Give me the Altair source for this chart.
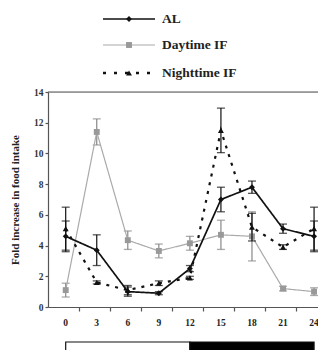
import altair as alt
import pandas as pd

hours = [0, 3, 6, 9, 12, 15, 18, 21, 24]
series_names = ["AL", "Daytime IF", "Nighttime IF"]
al_mean = [4.6, 3.7, 1.0, 0.9, 2.5, 7.0, 7.8, 5.1, 4.6]
al_err = [1.0, 1.0, 0.3, 0.1, 0.2, 0.8, 0.4, 0.3, 1.0]
day_mean = [1.1, 11.4, 4.35, 3.65, 4.15, 4.7, 4.6, 1.2, 1.0]
day_err = [0.45, 0.85, 0.6, 0.45, 0.45, 0.95, 1.6, 0.15, 0.25]
night_mean = [5.1, 1.6, 1.1, 1.55, 1.9, 11.5, 5.2, 3.9, 5.1]
night_err = [1.4, 0.1, 0.3, 0.15, 0.1, 1.45, 0.9, 0.15, 1.4]
y_ticks = [0, 2, 4, 6, 8, 10, 12, 14]
light_phase = [0, 12]
dark_phase = [12, 24]

FONT = "Liberation Serif"
W, H = 270, 215

xscale = alt.Scale(domain=[-1.71, 24.38], nice=False, zero=False)
yscale = alt.Scale(domain=[0, 14], nice=False, zero=True)

XAXIS = alt.Axis(values=hours, title=None, tickSize=4, tickOffset=13,
                 labelOffset=-13.5, labelPadding=6, labelFont=FONT,
                 labelFontSize=9.5, labelFontWeight="bold", labelColor="#222",
                 domainColor="#555", tickColor="#555", domainWidth=1.2,
                 tickWidth=1.2, grid=False)
YAXIS = alt.Axis(values=y_ticks, title="Fold increase in food intake",
                 tickSize=3, labelPadding=2, labelFont=FONT,
                 labelFontSize=9.5, labelFontWeight="bold", labelColor="#333",
                 titleFont=FONT, titleFontSize=11, titleFontWeight="bold",
                 titleColor="#222", titlePadding=13, domainColor="#555",
                 tickColor="#555", domainWidth=1.2, tickWidth=1.2, grid=False)


def X(f):
    return alt.X(f, scale=xscale, axis=XAXIS)


def Y(f):
    return alt.Y(f, scale=yscale, axis=YAXIS)


def make_df(means, errs):
    return pd.DataFrame({
        "hour": hours,
        "mean": means,
        "lo": [m - e for m, e in zip(means, errs)],
        "hi": [m + e for m, e in zip(means, errs)],
    })


styles = [
    ("Daytime IF", day_mean, day_err, "#aaaaaa", "#999999", "square", [1, 0], 1.2),
    ("AL", al_mean, al_err, "#111111", "#111111", "diamond", [1, 0], 1.7),
    ("Nighttime IF", night_mean, night_err, "#111111", "#111111", "triangle-up", [3, 6], 2.2),
]

layers = []
for name, m, e, lc, mc, shape, dash, w in styles:
    d = make_df(m, e)
    b = alt.Chart(d)
    err_col = lc if name != "Daytime IF" else "#888888"
    layers.append(b.mark_rule(color=err_col, strokeWidth=1.2).encode(
        x=X("hour:Q"), y=Y("lo:Q"), y2="hi:Q"))
    layers.append(b.mark_tick(color=err_col, orient="horizontal", size=8, thickness=1.3).encode(
        x=X("hour:Q"), y=Y("lo:Q")))
    layers.append(b.mark_tick(color=err_col, orient="horizontal", size=8, thickness=1.3).encode(
        x=X("hour:Q"), y=Y("hi:Q")))
    layers.append(b.mark_line(color=lc, strokeWidth=w, strokeDash=dash).encode(
        x=X("hour:Q"), y=Y("mean:Q")))
    layers.append(b.mark_point(shape=shape, filled=True, color=mc, size=35, opacity=1).encode(
        x=X("hour:Q"), y=Y("mean:Q")))

# top frame line at y = 14
top = alt.Chart(pd.DataFrame({"y": [14]})).mark_rule(color="#555", strokeWidth=1.2).encode(
    y=Y("y:Q"), x=alt.value(0), x2=alt.value(W))

# light / dark bar
bar_df = pd.DataFrame({"start": [light_phase[0], dark_phase[0]],
                       "end": [light_phase[1], dark_phase[1]],
                       "phase": ["light", "dark"]})
bar = alt.Chart(bar_df).mark_rect(stroke="#111", strokeWidth=1.2).encode(
    x=X("start:Q"), x2="end:Q",
    y=alt.value(250), y2=alt.value(262),
    fill=alt.Fill("phase:N", scale=alt.Scale(domain=["light", "dark"], range=["#ffffff", "#000000"]), legend=None))

# custom legend
leg_specs = [
    ("AL", -73, "#111111", "#111111", "diamond", [1, 0], 1.7),
    ("Daytime IF", -47, "#aaaaaa", "#999999", "square", [1, 0], 1.2),
    ("Nighttime IF", -19, "#111111", "#111111", "triangle-up", [3, 8], 2.4),
]
leg_layers = []
for name, yy, lc, mc, shape, dash, w in leg_specs:
    c = alt.Chart(pd.DataFrame({"name": [name]}))
    leg_layers.append(c.mark_rule(color=lc, strokeWidth=w, strokeDash=dash).encode(
        x=alt.value(55), x2=alt.value(107), y=alt.value(yy)))
    leg_layers.append(c.mark_point(shape=shape, filled=True, color=mc, size=35, opacity=1).encode(
        x=alt.value(81), y=alt.value(yy)))
    leg_layers.append(c.mark_text(align="left", baseline="middle", font=FONT, fontSize=13.5,
                                  fontWeight="bold", color="#222").encode(
        x=alt.value(114), y=alt.value(yy), text="name:N"))

chart = alt.layer(*layers, top, bar, *leg_layers).properties(
    width=W, height=H,
    autosize=alt.AutoSizeParams(type="none"),
    padding={"left": 40, "top": 84, "right": 0, "bottom": 43},
).configure_view(stroke=None).configure(background="white")

chart.save("out.html", embed_options={"renderer": "svg", "actions": False})
